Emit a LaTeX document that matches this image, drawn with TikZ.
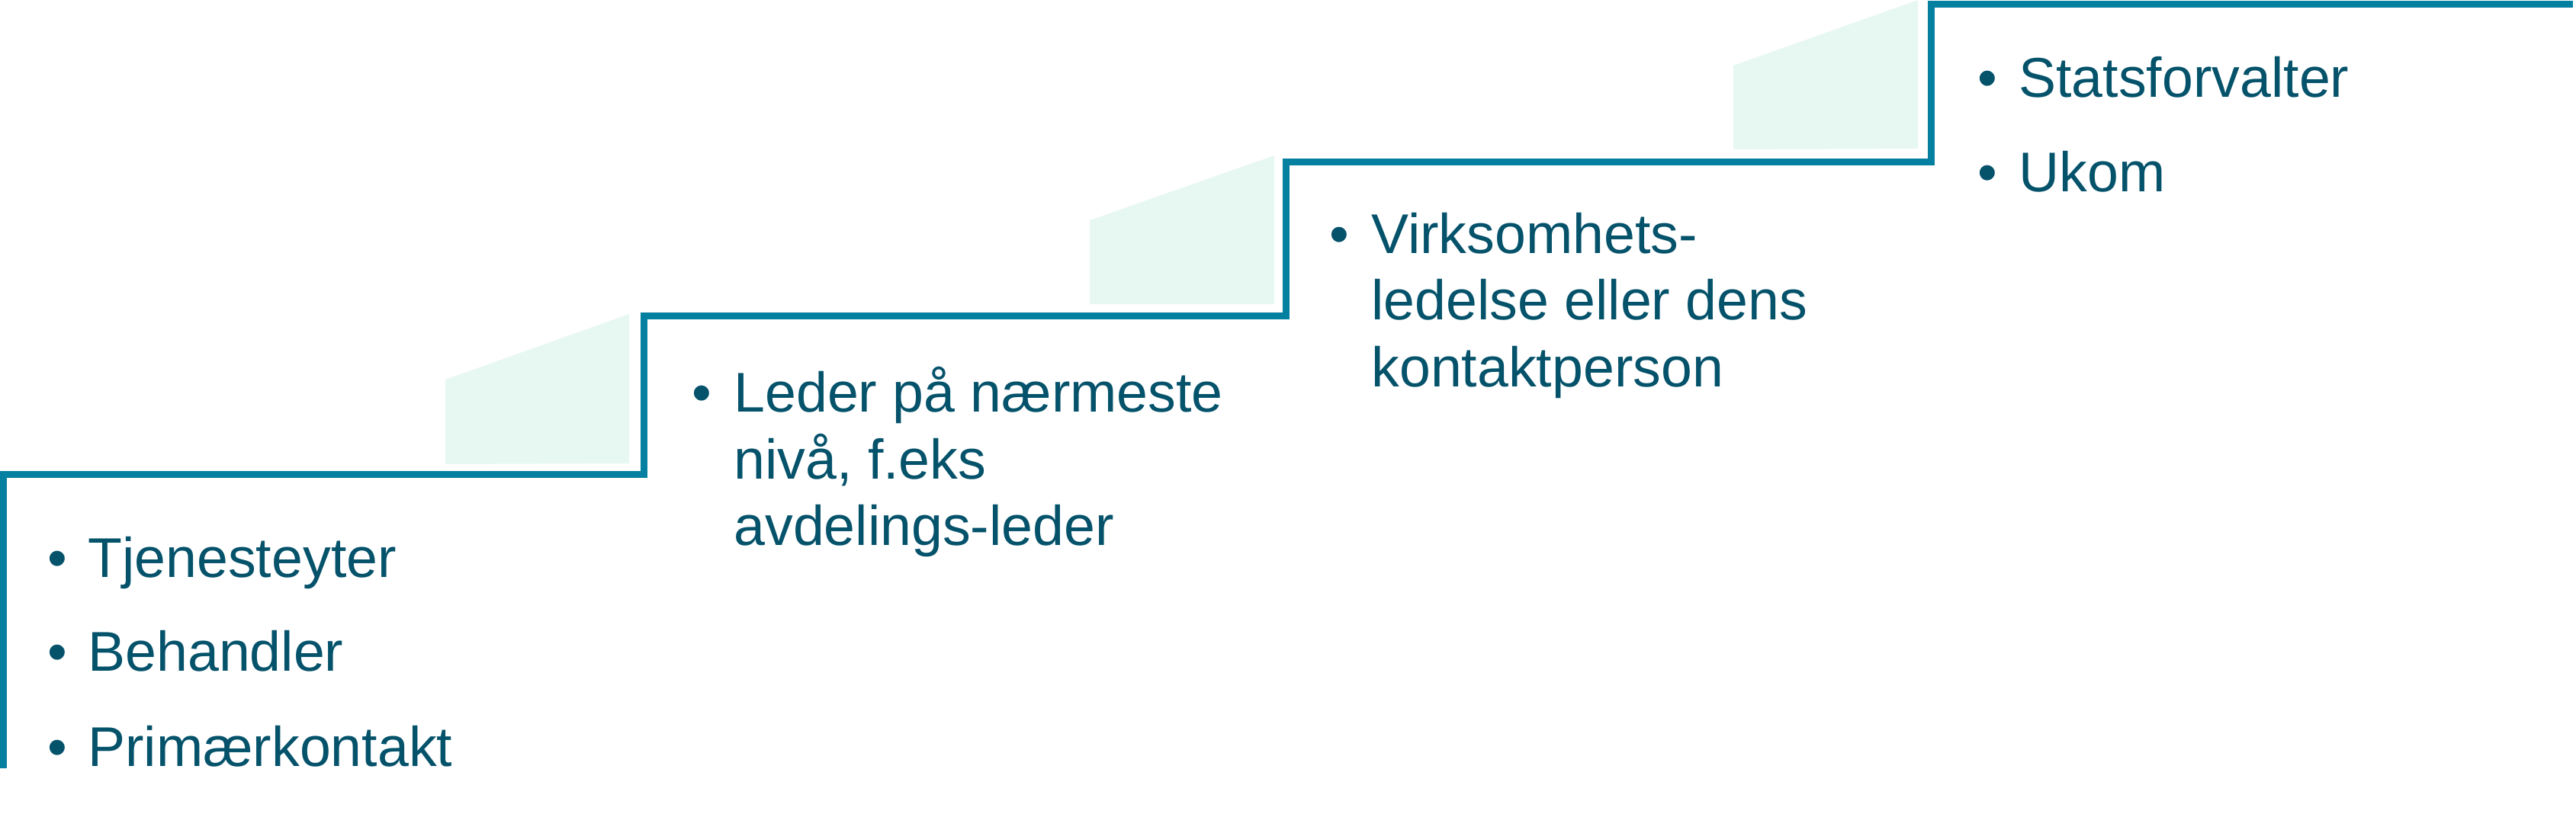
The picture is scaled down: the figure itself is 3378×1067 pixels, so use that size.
\documentclass[tikz,border=0pt]{standalone}
\usepackage{fontspec}
\setmainfont{Liberation Sans}
\definecolor{stairline}{HTML}{0680A1}
\definecolor{stairfill}{HTML}{E7F7F1}
\definecolor{textcol}{HTML}{05526B}
\begin{document}
\begin{tikzpicture}[x=0.5pt,y=-0.5pt,
  stair/.style={draw=stairline,line width=4.5pt,line join=miter,line cap=butt},
  shade/.style={fill=stairfill,draw=none},
  item/.style={anchor=base west,inner sep=0pt,text=textcol,font=\fontsize{36.75pt}{44pt}\selectfont},
  bul/.style={anchor=base,inner sep=0pt,text=textcol,font=\fontsize{36.75pt}{44pt}\selectfont}]
\useasboundingbox (0,0) rectangle (3378,1067);
% light fills
\fill[shade] (584,498) -- (825,412) -- (825,608) -- (584,609) -- cycle;
\fill[shade] (1429,289) -- (1671,204) -- (1671,399) -- (1429,399) -- cycle;
\fill[shade] (2273,86) -- (2515,0) -- (2515,195) -- (2273,196) -- cycle;
% stair line
\coordinate (s0) at (4.5,1008);
\coordinate (s1) at (4.5,622);
\coordinate (s2) at (844,622);
\coordinate (s3) at (844,414.5);
\coordinate (s4) at (1686.5,414.5);
\coordinate (s5) at (1686.5,212.5);
\coordinate (s6) at (2532,212.5);
\coordinate (s7) at (2532,5.5);
\coordinate (s8) at (3374,5.5);
\draw[stair] (s0) -- (s1) -- (s2) -- (s3) -- (s4) -- (s5) -- (s6) -- (s7) -- (s8);
% step 1
\node[bul] (b1a) at (75,757) {•};
\node[item] (t1a) at (115,757) {Tjenesteyter};
\node[bul] (b1b) at (75,880) {•};
\node[item] (t1b) at (115,880) {Behandler};
\node[bul] (b1c) at (75,1005) {•};
\node[item] (t1c) at (115,1005) {Primærkontakt};
% step 2
\node[bul] (b2a) at (920,540) {•};
\node[item] (t2a) at (962,540) {Leder på nærmeste};
\node[item] (t2b) at (962,628) {nivå, f.eks};
\node[item] (t2c) at (962,715) {avdelings-leder};
% step 3
\node[bul] (b3a) at (1756,332) {•};
\node[item] (t3a) at (1798,332) {Virksomhets-};
\node[item] (t3b) at (1798,419) {ledelse eller dens};
\node[item] (t3c) at (1798,507) {kontaktperson};
% step 4
\node[bul] (b4a) at (2606,127) {•};
\node[item] (t4a) at (2647,127) {Statsforvalter};
\node[bul] (b4b) at (2606,251) {•};
\node[item] (t4b) at (2647,251) {Ukom};
\end{tikzpicture}
\end{document}
